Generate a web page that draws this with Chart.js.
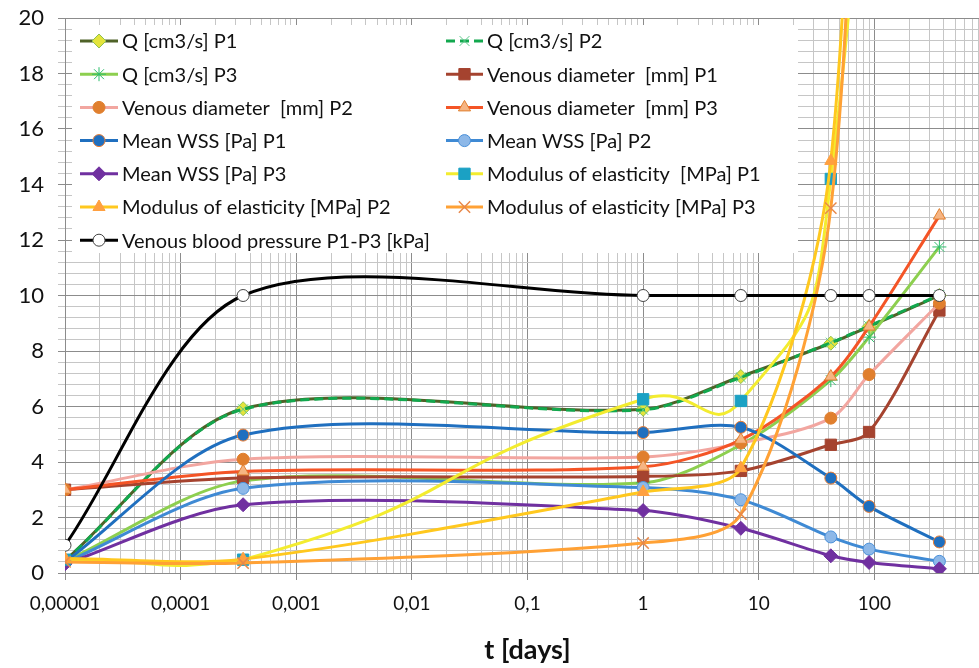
<!DOCTYPE html>
<html>
<head>
<meta charset="utf-8">
<script src="https://cdn.jsdelivr.net/npm/chart.js@4.4.1/dist/chart.umd.min.js"></script>
<style>
  html, body { margin: 0; padding: 0; background: #fff; overflow: hidden; }
  #chart { display: block; }
</style>
</head>
<body>
<canvas id="chart" width="1002" height="668"></canvas>
<script>
// time points (days): 0, 30 s, 1 d, 1 w, 6 w, 3 months, 1 year
var tDays = [0.00001, 0.000347, 1, 7, 42, 90, 365];

var qP1 = [0.45, 5.92, 5.9, 7.08, 8.28, 8.88, 10.0];
var qP2 = [0.45, 5.9, 5.88, 7.05, 8.3, 8.9, 10.02];
var qP3 = [0.42, 3.32, 3.25, 4.62, 6.95, 8.5, 11.75];
var diamP1 = [3.0, 3.42, 3.48, 3.68, 4.62, 5.08, 9.46];
var diamP2 = [3.0, 4.1, 4.18, 4.68, 5.58, 7.15, 9.72];
var diamP3 = [3.0, 3.66, 3.83, 4.8, 7.08, 8.88, 12.88];
var wssP1 = [0.4, 4.97, 5.06, 5.25, 3.42, 2.4, 1.12];
var wssP2 = [0.38, 3.05, 3.08, 2.64, 1.3, 0.86, 0.42];
var wssP3 = [0.33, 2.46, 2.25, 1.61, 0.62, 0.38, 0.15];
var modP1 = [0.48, 0.48, 6.26, 6.2, 14.2, 45, 70];
var modP2 = [0.52, 0.5, 2.92, 3.78, 14.85, 48, 72];
var modP3 = [0.4, 0.36, 1.08, 2.12, 13.15, 42, 68];
var pressure = [1.0, 10, 10, 10, 10, 10, 10];

// axis ticks
var xMajorValues = [0.00001, 0.0001, 0.001, 0.01, 0.1, 1, 10, 100];
var xMajorLabels = ['0,00001', '0,0001', '0,001', '0,01', '0,1', '1', '10', '100'];
var yLabelValues = [0, 2, 4, 6, 8, 10, 12, 14, 16, 18, 20];

var FONT = 'Lato, "Open Sans", sans-serif';

function xy(vals) {
    return vals.map(function(v, i) { return {x: tDays[i], y: v}; });
}

function series(label, data, line, marker) {
    return Object.assign({
        label: label,
        data: xy(data),
        borderColor: line,
        borderWidth: 3,
        pointBorderWidth: 1,
        tension: 0.3,
        fill: false
    }, marker);
}

var datasets = [
    series('Q [cm3/s] P1', qP1, '#4F6228', {pointStyle: 'rectRot', pointRadius: 7, pointBackgroundColor: '#E4E43C', pointBorderColor: '#8FC050'}),
    series('Q [cm3/s] P2', qP2, '#12A84E', {borderDash: [9, 5], pointStyle: 'crossRot', pointRadius: 7, pointBackgroundColor: '#5CC88A', pointBorderColor: '#5CC88A'}),
    series('Q [cm3/s] P3', qP3, '#8DCF4F', {pointStyle: 'star', pointRadius: 7, pointBackgroundColor: '#2DBE6C', pointBorderColor: '#2DBE6C'}),
    series('Venous diameter  [mm] P1', diamP1, '#A5432F', {pointStyle: 'rect', pointRadius: 8, pointBackgroundColor: '#A5432F', pointBorderColor: '#A5432F'}),
    series('Venous diameter  [mm] P2', diamP2, '#F2A6A0', {pointStyle: 'circle', pointRadius: 6, pointBackgroundColor: '#E07F2E', pointBorderColor: '#E07F2E'}),
    series('Venous diameter  [mm] P3', diamP3, '#F45426', {pointStyle: 'triangle', pointRadius: 7, pointBackgroundColor: '#F6B583', pointBorderColor: '#E07F2E'}),
    series('Mean WSS [Pa] P1', wssP1, '#1F6FBF', {pointStyle: 'circle', pointRadius: 6, pointBackgroundColor: '#1F6FBF', pointBorderColor: '#ED7D31'}),
    series('Mean WSS [Pa] P2', wssP2, '#3F8AD4', {pointStyle: 'circle', pointRadius: 6, pointBackgroundColor: '#8DB8E8', pointBorderColor: '#4A90D9'}),
    series('Mean WSS [Pa] P3', wssP3, '#7030A0', {pointStyle: 'rectRot', pointRadius: 7, pointBackgroundColor: '#7030A0', pointBorderColor: '#7030A0'}),
    series('Modulus of elasticity  [MPa] P1', modP1, '#F3EC2F', {tension: 0.6, pointStyle: 'rect', pointRadius: 8, pointBackgroundColor: '#1BA1C4', pointBorderColor: '#1BA1C4'}),
    series('Modulus of elasticity [MPa] P2', modP2, '#FFC81E', {pointStyle: 'triangle', pointRadius: 7, pointBackgroundColor: '#FFA040', pointBorderColor: '#FFA040'}),
    series('Modulus of elasticity [MPa] P3', modP3, '#FFA135', {pointStyle: 'crossRot', pointRadius: 8, pointBorderWidth: 1.5, pointBackgroundColor: '#E8884A', pointBorderColor: '#E8884A'}),
    series('Venous blood pressure P1-P3 [kPa]', pressure, '#000000', {pointStyle: 'circle', pointRadius: 6, pointBackgroundColor: '#FFFFFF', pointBorderColor: '#444444'})
];
// later series on top, like the original
datasets.forEach(function(ds, i) { ds.order = datasets.length - i; });

function isPow10(v) {
    var l = Math.log10(v);
    return Math.abs(l - Math.round(l)) < 1e-6;
}

// white legend box inside the plot, two columns
var legendBox = {
    id: 'legendBox',
    beforeDatasetsDraw: function(chart) {
        var ctx = chart.ctx;
        ctx.save();
        ctx.fillStyle = '#ffffff';
        ctx.fillRect(72, 25, 726, 228);
        ctx.font = '20px ' + FONT;
        ctx.textBaseline = 'middle';
        ctx.fillStyle = '#111';
        chart.data.datasets.forEach(function(ds, i) {
            var col = i % 2, row = Math.floor(i / 2);
            var y = 41 + row * 33.2;
            var x0 = col ? 446 : 80, x1 = col ? 483 : 118;
            ctx.save();
            ctx.strokeStyle = ds.borderColor;
            ctx.lineWidth = ds.borderWidth;
            ctx.setLineDash(ds.borderDash || []);
            ctx.beginPath();
            ctx.moveTo(x0, y);
            ctx.lineTo(x1, y);
            ctx.stroke();
            ctx.setLineDash([]);
            ctx.fillStyle = ds.pointBackgroundColor;
            ctx.strokeStyle = ds.pointBorderColor;
            ctx.lineWidth = ds.pointBorderWidth;
            Chart.helpers.drawPoint(ctx, {pointStyle: ds.pointStyle, radius: ds.pointRadius, rotation: 0, borderWidth: ds.pointBorderWidth}, (x0 + x1) / 2, y);
            ctx.restore();
            ctx.fillText(ds.label, col ? 487 : 122, y + 1);
        });
        ctx.restore();
    }
};

var xTicks = [];
for (var e = -5; e <= 2; e++) {
    for (var m = 1; m <= 9; m++) xTicks.push(Number((m * Math.pow(10, e)).toPrecision(3)));
}
xTicks.push(1000);
var yTicks = [];
for (var k = 0; k <= 50; k++) yTicks.push(Math.round(k * 4) / 10);

new Chart(document.getElementById('chart'), {
    type: 'line',
    data: {datasets: datasets},
    options: {
        responsive: false,
        animation: false,
        layout: {padding: {top: 18, right: 2, left: 0, bottom: 0}},
        plugins: {legend: {display: false}, tooltip: {enabled: false}},
        scales: {
            x: {
                type: 'logarithmic',
                min: 0.00001,
                max: 1000,
                afterBuildTicks: function(s) { s.ticks = xTicks.map(function(v) { return {value: v, major: isPow10(v)}; }); },
                afterFit: function(s) { s.height = 95; },
                ticks: {
                    autoSkip: false,
                    maxRotation: 0,
                    padding: 12,
                    color: '#111',
                    font: {family: FONT, size: 19},
                    callback: function(v) {
                        for (var i = 0; i < xMajorValues.length; i++) {
                            if (Math.abs(Math.log10(v) - Math.log10(xMajorValues[i])) < 1e-6) return xMajorLabels[i];
                        }
                        return '';
                    }
                },
                grid: {
                    color: function(c) { return c.tick && isPow10(c.tick.value) ? '#8c8c8c' : '#c6c6c6'; },
                    tickColor: function(c) { return c.tick && isPow10(c.tick.value) ? '#8c8c8c' : 'rgba(0,0,0,0)'; },
                    tickLength: 7
                },
                border: {color: '#8c8c8c'},
                title: {display: true, text: 't [days]', color: '#111', font: {family: FONT, size: 27, weight: 'bold'}, padding: {top: 0, bottom: 2}}
            },
            y: {
                min: 0,
                max: 20,
                afterBuildTicks: function(s) { s.ticks = yTicks.map(function(v) { return {value: v}; }); },
                afterFit: function(s) { s.width = 65; s.paddingTop = 0; s.paddingBottom = 0; },
                ticks: {
                    autoSkip: false,
                    padding: 14,
                    color: '#111',
                    font: {family: FONT, size: 22},
                    callback: function(v) { return yLabelValues.indexOf(v) >= 0 ? String(v) : ''; }
                },
                grid: {
                    color: function(c) { return c.tick && yLabelValues.indexOf(c.tick.value) >= 0 ? '#8c8c8c' : '#c6c6c6'; },
                    tickColor: function(c) { return c.tick && yLabelValues.indexOf(c.tick.value) >= 0 ? '#8c8c8c' : '#c6c6c6'; },
                    tickLength: 7
                },
                border: {color: '#8c8c8c'}
            }
        }
    },
    plugins: [legendBox]
});
</script>
</body>
</html>
